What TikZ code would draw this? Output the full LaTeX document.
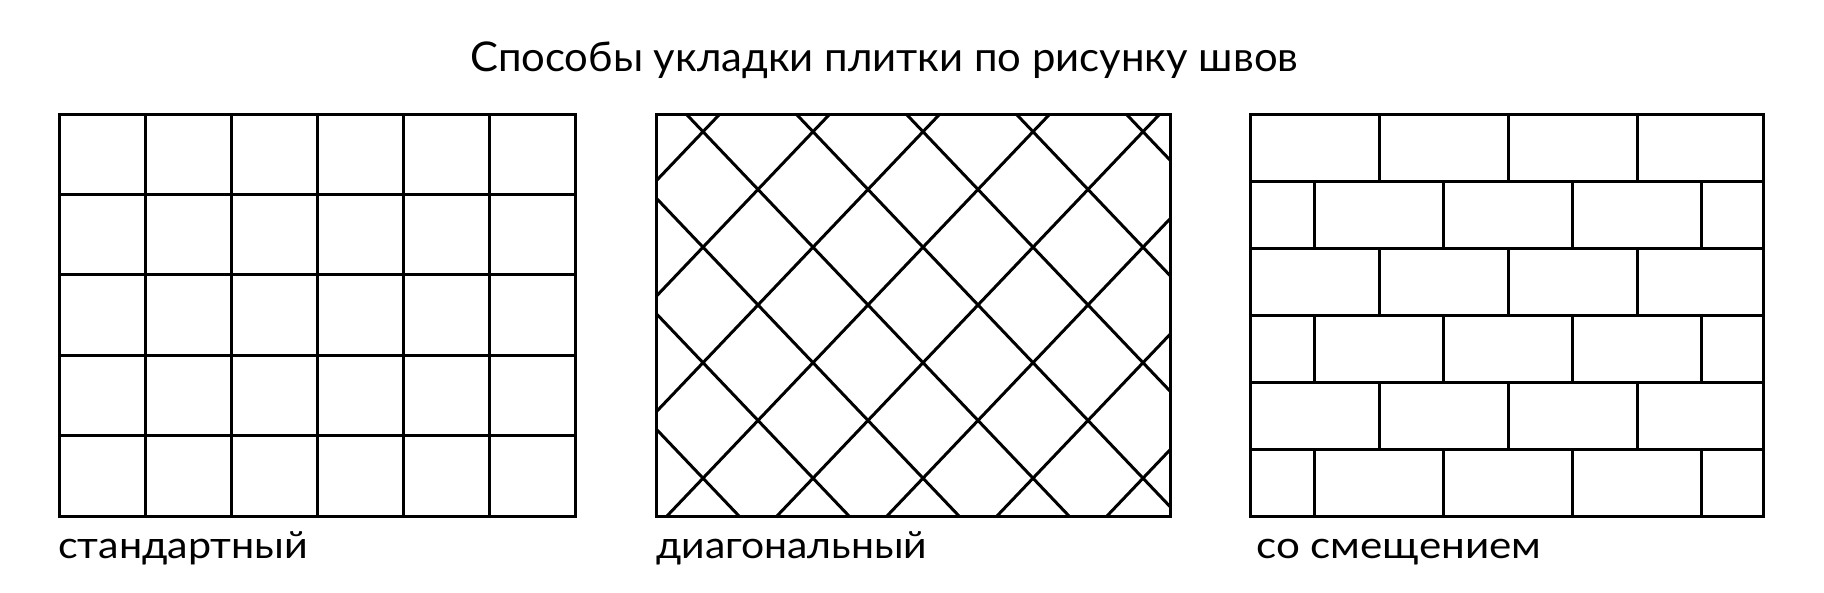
\documentclass[tikz,border=0pt]{standalone}
\usepackage{fontspec}
\setmainfont{Lato}
\usepackage{graphicx}
\tikzset{
  seam/.style={line width=3pt, draw=black, line join=miter},
  ttl/.style={anchor=base west, inner sep=0pt, font=\fontsize{41}{41}\selectfont},
  lbl/.style={anchor=base west, inner sep=0pt, font=\fontsize{37.5}{37.5}\selectfont}
}
\begin{document}
\begin{tikzpicture}[x=1pt,y=-1pt]
\fill[white] (0,0) rectangle (1824,592);
\useasboundingbox (0,0) rectangle (1824,592);

% panel 1: standard grid
\foreach \i in {1,...,5} \draw[seam] ({59+86*\i},114) -- ({59+86*\i},516);
\foreach \j in {1,...,4} \draw[seam] (59,{114+80.4*\j}) -- (575,{114+80.4*\j});
\draw[seam] (59,114) rectangle (575,516);

% panel 2: diagonal
\begin{scope}
\clip (656,114) rectangle (1170,516);
\foreach \k in {-6,...,10} {
  \draw[seam] ({703+110*\k-8*55},{131.7-8*57.75}) -- ({703+110*\k+8*55},{131.7+8*57.75});
  \draw[seam] ({703+110*\k-8*55},{131.7+8*57.75}) -- ({703+110*\k+8*55},{131.7-8*57.75});
}
\end{scope}
\draw[seam] (656,114) rectangle (1170,516);

% panel 3: offset (brick)
\foreach \r in {0,2,4} \foreach \k in {1,2,3} \draw[seam] ({1250+129*\k},{114+67*\r}) -- ++(0,67);
\foreach \r in {1,3,5} \foreach \k in {0,...,3} \draw[seam] ({1314.5+129*\k},{114+67*\r}) -- ++(0,67);
\foreach \j in {1,...,5} \draw[seam] (1250,{114+67*\j}) -- (1763,{114+67*\j});
\draw[seam] (1250,114) rectangle (1763,516);

% texts
\node[ttl] (title) at (470,71) {\resizebox{828pt}{\height}{Способы укладки плитки по рисунку швов}};
\node[lbl] (lab1) at (58,558) {\resizebox{250pt}{\height}{стандартный}};
\node[lbl] (lab2) at (656,558) {\resizebox{271pt}{\height}{диагональный}};
\node[lbl] (lab3) at (1256,558) {\resizebox{285pt}{\height}{со смещением}};
\end{tikzpicture}
\end{document}
